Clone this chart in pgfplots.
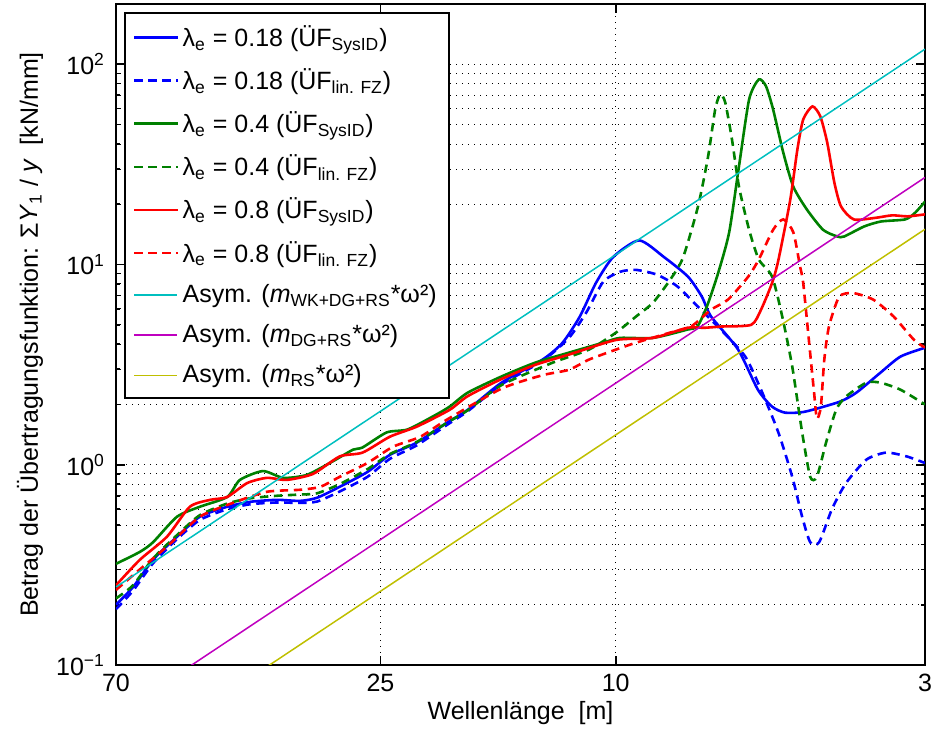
\documentclass[border=0pt]{standalone}
\usepackage{fontspec}
\setmainfont{Liberation Sans}
\usepackage{pgfplots}
\pgfplotsset{compat=1.18}
\definecolor{mblue}{rgb}{0,0,1}
\definecolor{mgreen}{rgb}{0,0.5,0}
\definecolor{mred}{rgb}{1,0,0}
\definecolor{mcyan}{rgb}{0,0.75,0.75}
\definecolor{mmag}{rgb}{0.75,0,0.75}
\definecolor{myel}{rgb}{0.75,0.75,0}
\newcommand{\fs}{\fontsize{12.5}{15}\selectfont}
\tikzset{
  dat/.style={line width=1.3pt, smooth, tension=0.4},
  dsh/.style={dat, dash pattern=on 4.2pt off 2.8pt},
  asy/.style={line width=0.75pt},
}
\begin{document}
\begin{tikzpicture}
\begin{axis}[
  scale only axis, width=404.5pt, height=330.5pt,
  xmode=log, ymode=log, x dir=reverse,
  xmin=3, xmax=70, ymin=0.1, ymax=200,
  xtick={3,10,25,70}, xticklabels={3,10,25,70},
  ytick={0.1,1,10,100},
  yticklabels={10\textsuperscript{−1},10\textsuperscript{0},10\textsuperscript{1},10\textsuperscript{2}},
  minor ytick={0.2,0.3,0.4,0.5,0.6,0.7,0.8,0.9,2,3,4,5,6,7,8,9,20,30,40,50,60,70,80,90},
  xminorticks=false,
  xmajorgrids=true, ymajorgrids=true, yminorgrids=true,
  major grid style={black, line width=0.45pt, dash pattern=on 0.6pt off 2.4pt},
  minor grid style={black, line width=0.45pt, dash pattern=on 0.6pt off 2.4pt},
  axis line style={line width=1.1pt},
  every tick/.style={black, line width=0.8pt},
  major tick length=4.5pt, minor tick length=2.2pt,
  tick align=inside,
  tick label style={font=\fs},
  xticklabel style={yshift=-1pt},
  yticklabel style={xshift=-2pt},
  label style={font=\fs},
  xlabel={Wellenlänge\ \ [m]},
  ylabel={Betrag der Übertragungsfunktion: Σ\textit{Y}\textsubscript{1} / \textit{y}\ \ [kN/mm]},
  xlabel style={at={(axis description cs:0.5,-0.0726)}, anchor=center},
  ylabel style={at={(axis description cs:-0.1063,0.5)}, anchor=center},
  legend style={at={(0.0099,0.9879)}, anchor=north west, font=\fs, draw=black, line width=1.1pt, fill=white, row sep=5.6pt, inner xsep=4pt, inner ysep=4.2pt},
  legend cell align=left,
  legend image post style={xscale=1.26},
]
\coordinate (sw) at (axis description cs:0,0);
\coordinate (ne) at (axis description cs:1,1);

\addplot[mblue, dat] coordinates {
(70,0.20) (65.5,0.245) (60.6,0.335) (55.2,0.437) (50.5,0.55) (45.4,0.617) (41.5,0.653) (37.4,0.668) (34.2,0.66) (32.0,0.684) (29.3,0.776) (26.3,0.92) (24.1,1.12) (21.7,1.29) (19.3,1.62) (17.8,1.88) (15.6,2.57) (13.3,3.35) (12.3,4.07) (11.5,5.5) (10.8,8.1) (10.1,10.9) (9.13,13.2) (8.29,10.9) (7.55,8.7) (7.15,6.9) (6.90,5.5) (6.21,3.76) (5.75,2.37) (5.44,1.95) (5.17,1.82) (4.79,1.84) (4.19,2.06) (3.92,2.29) (3.57,2.88) (3.30,3.47) (3.00,3.84)};
\addlegendentry{λ\textsubscript{e} = 0.18 (ÜF\textsubscript{SysID})}

\addplot[mblue, dsh] coordinates {
(70,0.19) (65.5,0.235) (60.6,0.322) (55.2,0.425) (50.5,0.53) (45.4,0.60) (41.5,0.635) (37.4,0.648) (34.2,0.645) (32.0,0.655) (29.3,0.735) (26.3,0.87) (24.1,1.07) (21.7,1.25) (19.3,1.58) (17.8,1.85) (15.6,2.52) (13.3,3.3) (12.0,4.3) (11.2,5.8) (10.5,8.2) (9.83,9.2) (9.24,9.4) (8.52,8.9) (7.88,7.8) (7.28,6.2) (6.63,4.7) (6.04,3.47) (5.68,2.37) (5.31,1.45) (5.03,0.87) (4.84,0.55) (4.69,0.41) (4.53,0.41) (4.31,0.6) (4.08,0.81) (3.77,1.06) (3.49,1.15) (3.22,1.1) (3.00,1.02)};
\addlegendentry{λ\textsubscript{e} = 0.18 (ÜF\textsubscript{lin. FZ})}

\addplot[mgreen, dat] coordinates {
(70,0.32) (63.8,0.367) (60.6,0.41) (55.2,0.55) (50.5,0.617) (45.4,0.69) (43.2,0.84) (39.5,0.93) (36.5,0.86) (33.3,0.89) (30.1,1.04) (27.8,1.19) (26.8,1.22) (24.4,1.45) (22.5,1.5) (20.4,1.74) (19.1,1.95) (17.8,2.29) (15.6,2.76) (13.7,3.23) (12.0,3.63) (10.5,4.07) (9.83,4.3) (8.65,4.3) (7.57,4.73) (7.28,4.9) (7.01,6.2) (6.71,9.1) (6.43,14.5) (6.19,30.9) (5.95,66.8) (5.73,84) (5.57,77.6) (5.42,59.6) (5.21,36.3) (5.01,24.5) (4.75,18.8) (4.46,14.9) (4.22,13.8) (4.11,13.8) (3.80,15.5) (3.56,16.4) (3.24,16.8) (3.12,18.1) (3.00,20.6)};
\addlegendentry{λ\textsubscript{e} = 0.4 (ÜF\textsubscript{SysID})}

\addplot[mgreen, dsh] coordinates {
(70,0.215) (65.5,0.25) (60.6,0.34) (55.2,0.445) (50.5,0.56) (45.4,0.64) (41.5,0.68) (37.4,0.70) (34.2,0.71) (32.0,0.72) (29.3,0.80) (26.3,0.95) (24.1,1.13) (21.7,1.3) (19.3,1.62) (17.8,1.87) (15.6,2.5) (12.8,3.23) (11.1,3.76) (9.99,4.57) (9.24,5.5) (8.65,6.45) (8.09,8.4) (7.70,10.8) (7.26,19.5) (6.98,34.7) (6.79,59.6) (6.66,70.8) (6.53,64.5) (6.36,42) (6.19,24.5) (5.95,14.9) (5.73,10.6) (5.44,8.7) (5.23,5.5) (5.03,3.09) (4.84,1.45) (4.69,0.87) (4.57,0.87) (4.41,1.29) (4.24,1.88) (4.08,2.19) (3.77,2.57) (3.57,2.57) (3.30,2.37) (3.00,2.0)};
\addlegendentry{λ\textsubscript{e} = 0.4 (ÜF\textsubscript{lin. FZ})}

\addplot[mred, dat] coordinates {
(70,0.25) (63.8,0.335) (57.4,0.437) (52.5,0.617) (48.5,0.668) (45.4,0.69) (42.0,0.81) (38.9,0.86) (36.0,0.84) (32.5,0.9) (29.3,1.1) (26.8,1.15) (24.1,1.38) (21.7,1.55) (19.1,1.88) (17.8,2.2) (15.6,2.68) (13.7,3.15) (12.0,3.55) (9.99,4.2) (8.65,4.3) (7.57,4.83) (7.09,4.83) (6.63,4.9) (5.90,5.0) (5.68,5.95) (5.44,8.1) (5.31,10.5) (5.07,21) (4.93,37.6) (4.82,53) (4.65,61.6) (4.51,55) (4.39,40.7) (4.27,25.7) (4.16,19.5) (3.96,16.8) (3.64,17.1) (3.41,17.6) (3.21,17.4) (3.00,17.8)};
\addlegendentry{λ\textsubscript{e} = 0.8 (ÜF\textsubscript{SysID})}

\addplot[mred, dsh] coordinates {
(70,0.237) (63.8,0.30) (57.4,0.39) (50.5,0.55) (44.4,0.645) (38.9,0.733) (34.2,0.75) (31.6,0.776) (29.3,0.87) (26.3,1.02) (23.8,1.23) (21.4,1.38) (19.3,1.68) (15.6,2.4) (13.3,2.8) (12.0,2.98) (11.1,3.35) (9.99,3.76) (9.24,4.07) (8.09,4.57) (7.46,4.9) (6.90,5.95) (6.46,6.68) (5.97,8.7) (5.73,10.6) (5.42,14.9) (5.21,16.8) (5.01,14.5) (4.88,9.8) (4.82,8.1) (4.71,4.07) (4.62,2.29) (4.57,1.7) (4.50,1.95) (4.44,3.35) (4.36,4.9) (4.19,6.9) (3.97,7.2) (3.67,6.68) (3.39,5.5) (3.13,4.2) (3.00,3.85)};
\addlegendentry{λ\textsubscript{e} = 0.8 (ÜF\textsubscript{lin. FZ})}

\addplot[mcyan, asy] coordinates {(70,0.245) (3,119)};
\addlegendentry{Asym. (\textit{m}\textsubscript{WK+DG+RS}*ω²)}
\addplot[mmag, asy] coordinates {(70,0.056) (3,27.2)};
\addlegendentry{Asym. (\textit{m}\textsubscript{DG+RS}*ω²)}
\addplot[myel, asy] coordinates {(70,0.0309) (3,15)};
\addlegendentry{Asym. (\textit{m}\textsubscript{RS}*ω²)}
\end{axis}
\pgfresetboundingbox
\path ([shift={(-58pt,-34.5pt)}]sw) rectangle ([shift={(3.5pt,2pt)}]ne);
\end{tikzpicture}
\end{document}
